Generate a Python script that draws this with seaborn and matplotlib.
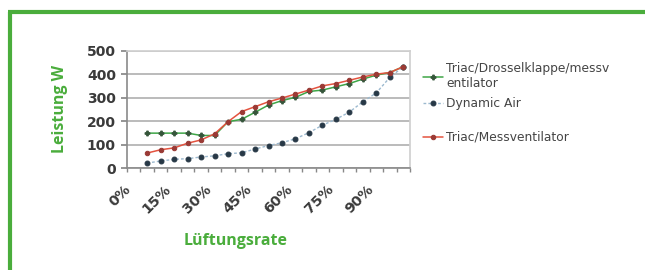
import numpy as np
import pandas as pd
import matplotlib
matplotlib.use('Agg')
import matplotlib.pyplot as plt
import seaborn as sns

# Lüftungsrate in % (Kategorien 5% .. 100%)
rate = [5, 10, 15, 20, 25, 30, 35, 40, 45, 50, 55, 60, 65, 70, 75, 80, 85, 90, 95, 100]
drossel = [149, 149, 149, 149, 139, 139, 198, 208, 238, 269, 288, 302, 327, 333, 347, 361, 380, 397, 408, 433]
dynamic = [21, 30, 37, 40, 47, 52, 61, 65, 81, 96, 108, 125, 151, 183, 208, 239, 283, 321, 387, 433]
messvent = [64, 78, 86, 106, 120, 146, 198, 241, 262, 283, 299, 316, 333, 351, 361, 375, 389, 401, 408, 433]

xtick_vals = [0, 15, 30, 45, 60, 75, 90]
xtick_labels = ['0%', '15%', '30%', '45%', '60%', '75%', '90%']
ytick_vals = [0, 100, 200, 300, 400, 500]

green = '#4aad3c'

sns.set_theme(style='white')
plt.rcParams['font.family'] = ['DejaVu Sans']

df = pd.DataFrame({'rate': rate, 'drossel': drossel, 'dynamic': dynamic, 'messvent': messvent})

fig = plt.figure(figsize=(6.45, 2.7), dpi=100)
ax = fig.add_axes([127 / 645, 1 - 168 / 270, 283 / 645, 117 / 270])

sns.lineplot(data=df, x='rate', y='drossel', ax=ax, color='#3ea647', lw=1.1,
             marker='P', markersize=3.5, markerfacecolor='#35553a', markeredgecolor='#35553a',
             label='Triac/Drosselklappe/messv\nentilator')
sns.lineplot(data=df, x='rate', y='dynamic', ax=ax, color='#9cb9cf', lw=1.0, linestyle=(0, (2, 1.5)),
             marker='o', markersize=3.5, markerfacecolor='#273846', markeredgecolor='#273846',
             label='Dynamic Air')
sns.lineplot(data=df, x='rate', y='messvent', ax=ax, color='#e4533f', lw=1.1,
             marker='o', markersize=3.2, markerfacecolor='#9a3a35', markeredgecolor='#9a3a35',
             label='Triac/Messventilator')

ax.set_xlim(-2.5, 102.5)
ax.set_ylim(0, 500)
ax.set_yticks(ytick_vals)
ax.set_yticklabels([str(v) for v in ytick_vals], fontsize=10, color='#3a3a3a', fontweight='bold')
ax.set_xticks(xtick_vals)
ax.set_xticklabels(xtick_labels, rotation=45, ha='right',
                   fontsize=10.3, color='#3a3a3a', fontweight='bold')
ax.set_xticks(np.arange(-2.5, 103, 5), minor=True)
ax.tick_params(axis='x', which='major', length=0, pad=10)
ax.tick_params(axis='x', which='minor', length=3, color='#888888', bottom=True)
ax.tick_params(axis='y', length=4, color='#888888', left=True, pad=4)
ax.set_xlabel('')
ax.set_ylabel('')
ax.yaxis.grid(True, color='#b5b5b5', lw=1.3)
for side in ['top', 'right']:
    ax.spines[side].set_color('#d0d0d0')
for side in ['left', 'bottom']:
    ax.spines[side].set_color('#8a8a8a')
    ax.spines[side].set_linewidth(1.2)

handles, labels = ax.get_legend_handles_labels()
ax.get_legend().remove()
leg_kw = dict(frameon=False, fontsize=8.8, handlelength=1.6, handletextpad=0.3,
              labelspacing=0.6, borderaxespad=0, borderpad=0, loc='upper left')
leg1 = fig.legend(handles[:2], labels[:2], bbox_to_anchor=(423 / 645, 1 - 62 / 270), **leg_kw)
leg2 = fig.legend(handles[2:], labels[2:], bbox_to_anchor=(423 / 645, 1 - 131 / 270), **leg_kw)
for leg in (leg1, leg2):
    for t in leg.get_texts():
        t.set_color('#444444')

fig.text(60 / 645, 1 - 109 / 270, 'Leistung W', rotation=90, ha='center', va='center',
         color=green, fontsize=11.5, fontweight='bold', family=['Open Sans', 'DejaVu Sans'])
fig.text(236 / 645, 1 - 241 / 270, 'Lüftungsrate', ha='center', va='center',
         color=green, fontsize=11.5, fontweight='bold', family=['Open Sans', 'DejaVu Sans'])

# grüner Rahmen
fig.add_artist(plt.Line2D([9.5 / 645, 9.5 / 645], [0, 1 - 11.5 / 270], transform=fig.transFigure,
                          color=green, lw=3, solid_capstyle='butt'))
fig.add_artist(plt.Line2D([8 / 645, 1], [1 - 11.5 / 270, 1 - 11.5 / 270], transform=fig.transFigure,
                          color=green, lw=3, solid_capstyle='butt'))

fig.savefig('out.png', dpi=100)
